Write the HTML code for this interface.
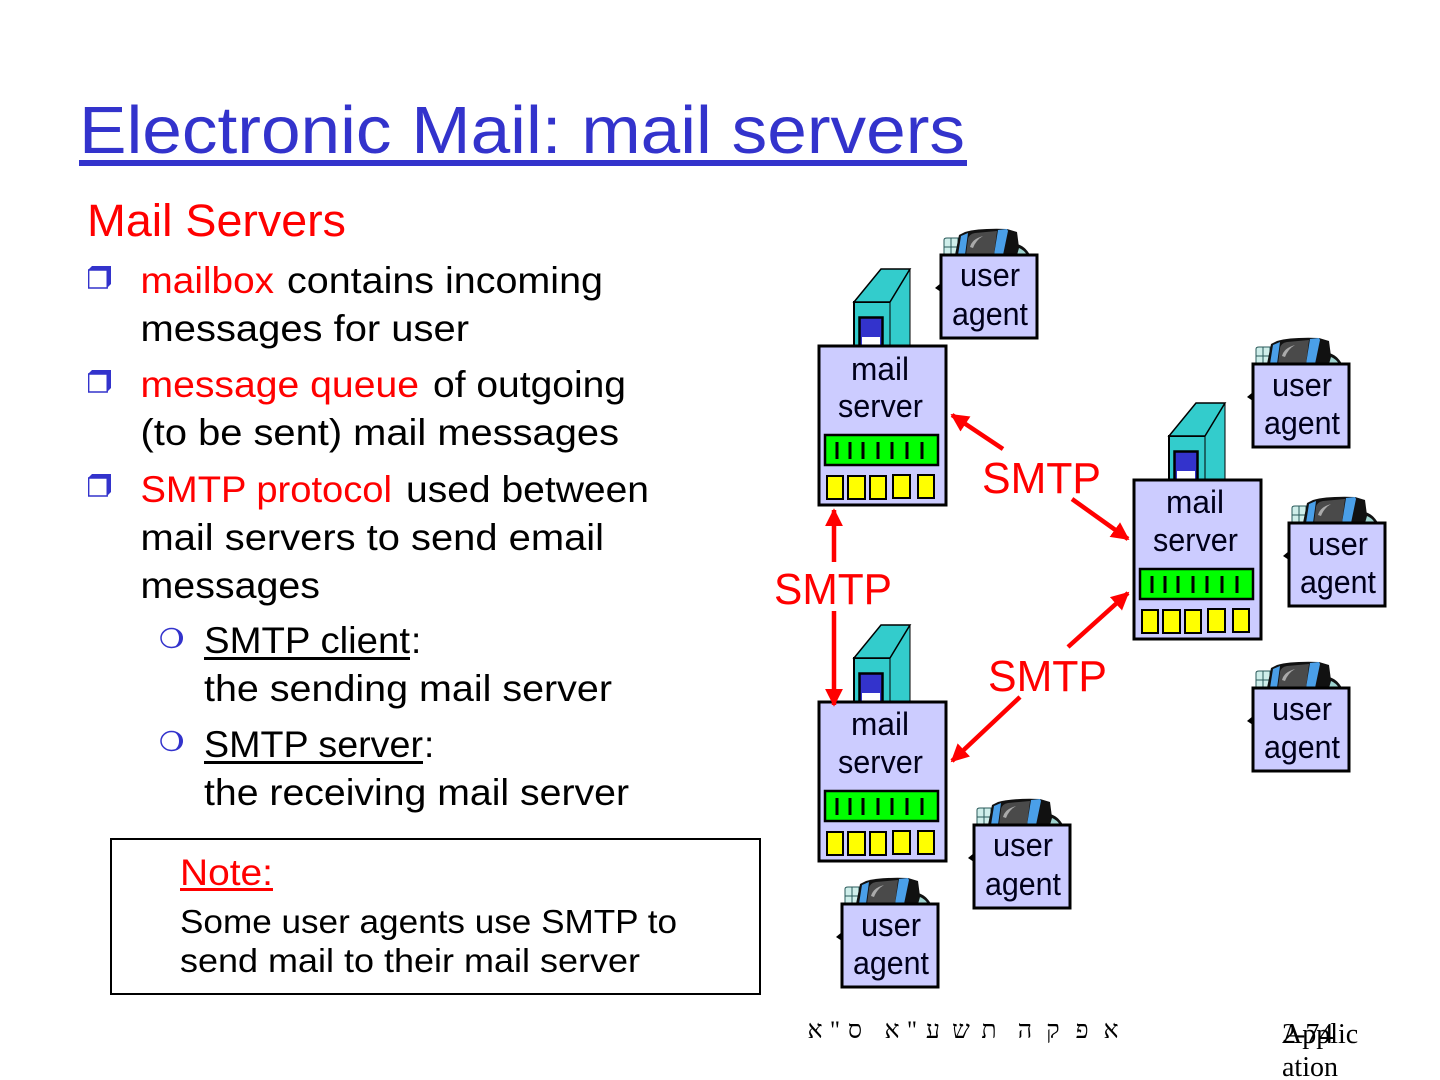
<!DOCTYPE html>
<html lang="en"><head><meta charset="utf-8"><title>Electronic Mail: mail servers</title>
<style>
html,body{margin:0;padding:0;background:#fff}
svg{display:block}
text{font-family:"Liberation Sans",sans-serif}
.b{font-size:37px;fill:#000}
.r{font-size:37px;fill:#f00}
.n{font-size:33px;fill:#000}
.l{font-size:32px;fill:#00001a}
.s{font-size:44px;fill:#f00}
.h{font-family:"Liberation Serif","DejaVu Serif",serif;font-size:25px;fill:#000;text-anchor:middle}
.f{font-family:"Liberation Serif",serif;font-size:28px;fill:#000}
</style></head><body>
<svg width="1440" height="1080" viewBox="0 0 1440 1080" xmlns="http://www.w3.org/2000/svg">
<defs>
<g id="ua">
<path d="M-6 33l6-5v9z" fill="#000"/>
<path d="M3 0v-15q0-2 3-2h11v17z" fill="#cfeeea" stroke="#2a5a5a" stroke-width="1"/>
<path d="M3 -8h14M10 -17v17" stroke="#2a5a5a" stroke-width="1"/>
<path d="M14 0l4-20 6-3q14-4 42-3l10 3 3 23z" fill="#111"/>
<path d="M17 0l3-19 7-3-3 22zM57 -25l9-1 1 2-5 24h-9z" fill="#4a9fe8"/>
<path d="M25 0l2-16q1-5 7-6l22-2-3 24z" fill="#4a4a4a"/>
<path d="M29 -8q2-8 13-11-7 4-10 12z" fill="#aaa"/>
<path d="M76 0v-11q8 2 13 11z" fill="#111"/>
<path d="M76 0l2-7q5 2 8 7z" fill="#9fd4d0"/>
<rect width="96" height="83" fill="#ccccff" stroke="#000" stroke-width="3" x="0" y="0"/>
</g>
<g id="ms">
<path d="M71 2v-46l20-33v79z" fill="#33cccc"/>
<path d="M91 -77v79" stroke="#000" stroke-width="1"/>
<path d="M35 2v-46h36v46z" fill="#33cccc"/>
<path d="M35 2v-46h36" fill="none" stroke="#000" stroke-width="2"/>
<path d="M71 -44v46" stroke="#000" stroke-width="1"/>
<path d="M35 -44l27-33h29l-20 33z" fill="#33cccc" stroke="#000" stroke-width="1.500"/>
<rect x="40.500" y="-28.500" width="23" height="30" fill="#3333cc" stroke="#000" stroke-width="2.500"/>
<rect x="43" y="-9" width="18" height="9" fill="#fff"/>
<rect width="127" height="159" fill="#ccccff" stroke="#000" stroke-width="3"/>
<rect x="6" y="89" width="113" height="30" fill="#00ff00" stroke="#000" stroke-width="2.500"/>
<path d="M18 96v17M31 96v17M44 96v17M59 96v17M73 96v17M88 96v17M103 96v17" stroke="#000" stroke-width="3"/>
<g fill="#ffff00" stroke="#000" stroke-width="2">
<rect x="8" y="130" width="16" height="23"/><rect x="29" y="130" width="17" height="23"/><rect x="51" y="130" width="16" height="23"/><rect x="74" y="129" width="17" height="23"/><rect x="99" y="129" width="16" height="23"/>
</g>
</g>
<g id="sq">
<path d="M0.700 22v-18h18.500v18z" fill="#fff" stroke="#3333cc" stroke-width="1.400"/>
<path d="M0 4l4-4h19v18l-4 4v-18z" fill="#3333cc"/>
</g>
<g id="ci">
<ellipse cx="0" cy="0" rx="10.500" ry="9.500" fill="none" stroke="#3333cc" stroke-width="1.500"/>
<path d="M2 -9.500C8 -9 11.500 -5 11.500 0C11.500 5 8 9.500 2 9.800C6 7 7.500 4 7.500 0C7.500 -4 6 -7 2 -9.500z" fill="#3333cc"/>
</g>
<marker id="a" viewBox="0 0 10 10" refX="9" refY="5" markerWidth="4" markerHeight="4" orient="auto"><path d="M0 0L10 5L0 10z" fill="#f00"/></marker>
</defs>

<text x="79" y="153" font-size="67" fill="#3333cc" textLength="886" lengthAdjust="spacingAndGlyphs">Electronic Mail: mail servers</text>
<rect x="79" y="160" width="888" height="6" fill="#3333cc"/>
<text x="87" y="236" font-size="45" fill="#f00" textLength="259" lengthAdjust="spacingAndGlyphs">Mail Servers</text>

<use href="#sq" x="88" y="266"/><use href="#sq" x="88" y="370"/><use href="#sq" x="88" y="474"/>
<use href="#ci" x="171.500" y="638"/><use href="#ci" x="171.500" y="741"/>

<text class="r" x="140.500" y="293" textLength="133.500" lengthAdjust="spacingAndGlyphs">mailbox</text>
<text class="b" x="287" y="293" textLength="316" lengthAdjust="spacingAndGlyphs">contains incoming</text>
<text class="b" x="140.500" y="341" textLength="328.500" lengthAdjust="spacingAndGlyphs">messages for user</text>
<text class="r" x="140.500" y="397" textLength="278.500" lengthAdjust="spacingAndGlyphs">message queue</text>
<text class="b" x="433" y="397" textLength="193" lengthAdjust="spacingAndGlyphs">of outgoing</text>
<text class="b" x="140.500" y="445" textLength="478.500" lengthAdjust="spacingAndGlyphs">(to be sent) mail messages</text>
<text class="r" x="140.500" y="502" textLength="251.500" lengthAdjust="spacingAndGlyphs">SMTP protocol</text>
<text class="b" x="406" y="502" textLength="243" lengthAdjust="spacingAndGlyphs">used between</text>
<text class="b" x="140.500" y="550" textLength="463.500" lengthAdjust="spacingAndGlyphs">mail servers to send email</text>
<text class="b" x="140.500" y="598" textLength="179.500" lengthAdjust="spacingAndGlyphs">messages</text>
<text class="b" x="204" y="653" textLength="206" lengthAdjust="spacingAndGlyphs">SMTP client</text>
<text class="b" x="411" y="653">:</text>
<rect x="204" y="657" width="206" height="3" fill="#000"/>
<text class="b" x="204" y="701" textLength="408" lengthAdjust="spacingAndGlyphs">the sending mail server</text>
<text class="b" x="204" y="757" textLength="219" lengthAdjust="spacingAndGlyphs">SMTP server</text>
<text class="b" x="424" y="757">:</text>
<rect x="204" y="761" width="219" height="3" fill="#000"/>
<text class="b" x="204" y="805" textLength="425" lengthAdjust="spacingAndGlyphs">the receiving mail server</text>

<rect x="111" y="839" width="649" height="155" fill="#fff" stroke="#000" stroke-width="2"/>
<text x="180" y="885" font-size="37" fill="#f00" textLength="93" lengthAdjust="spacingAndGlyphs">Note:</text>
<rect x="180" y="888" width="93" height="3" fill="#f00"/>
<text class="n" x="180" y="933" textLength="497" lengthAdjust="spacingAndGlyphs">Some user agents use SMTP to</text>
<text class="n" x="180" y="972" textLength="460" lengthAdjust="spacingAndGlyphs">send mail to their mail server</text>

<use href="#ms" x="819" y="346"/>
<use href="#ms" x="1134" y="480"/>
<use href="#ms" x="819" y="702"/>
<use href="#ua" x="941" y="255"/>
<use href="#ua" x="1253" y="364"/>
<use href="#ua" x="1289" y="523"/>
<use href="#ua" x="1253" y="688"/>
<use href="#ua" x="974" y="825"/>
<use href="#ua" x="842" y="904"/>

<text class="l" x="851" y="380" textLength="58" lengthAdjust="spacingAndGlyphs">mail</text><text class="l" x="838" y="417" textLength="85" lengthAdjust="spacingAndGlyphs">server</text>
<text class="l" x="1166" y="513" textLength="58" lengthAdjust="spacingAndGlyphs">mail</text><text class="l" x="1153" y="551" textLength="85" lengthAdjust="spacingAndGlyphs">server</text>
<text class="l" x="851" y="735" textLength="58" lengthAdjust="spacingAndGlyphs">mail</text><text class="l" x="838" y="773" textLength="85" lengthAdjust="spacingAndGlyphs">server</text>

<text class="l" x="960" y="286" textLength="60" lengthAdjust="spacingAndGlyphs">user</text><text class="l" x="952" y="325" textLength="76" lengthAdjust="spacingAndGlyphs">agent</text>
<text class="l" x="1272" y="396" textLength="60" lengthAdjust="spacingAndGlyphs">user</text><text class="l" x="1264" y="434" textLength="76" lengthAdjust="spacingAndGlyphs">agent</text>
<text class="l" x="1308" y="555" textLength="60" lengthAdjust="spacingAndGlyphs">user</text><text class="l" x="1300" y="593" textLength="76" lengthAdjust="spacingAndGlyphs">agent</text>
<text class="l" x="1272" y="720" textLength="60" lengthAdjust="spacingAndGlyphs">user</text><text class="l" x="1264" y="758" textLength="76" lengthAdjust="spacingAndGlyphs">agent</text>
<text class="l" x="993" y="856" textLength="60" lengthAdjust="spacingAndGlyphs">user</text><text class="l" x="985" y="895" textLength="76" lengthAdjust="spacingAndGlyphs">agent</text>
<text class="l" x="861" y="936" textLength="60" lengthAdjust="spacingAndGlyphs">user</text><text class="l" x="853" y="974" textLength="76" lengthAdjust="spacingAndGlyphs">agent</text>

<g stroke="#f00" stroke-width="4.500" fill="none">
<path d="M1003 449L952 415" marker-end="url(#a)"/>
<path d="M1072 499L1128 539" marker-end="url(#a)"/>
<path d="M834 562V510" marker-end="url(#a)"/>
<path d="M834 611V705" marker-end="url(#a)"/>
<path d="M1068 647L1128 593" marker-end="url(#a)"/>
<path d="M1020 697L952 761" marker-end="url(#a)"/>
</g>
<text class="s" x="982" y="493" textLength="119" lengthAdjust="spacingAndGlyphs">SMTP</text>
<text class="s" x="774" y="604" textLength="118" lengthAdjust="spacingAndGlyphs">SMTP</text>
<text class="s" x="988" y="691" textLength="119" lengthAdjust="spacingAndGlyphs">SMTP</text>

<g>
<text class="h" x="815" y="1038">א</text><text class="h" x="835" y="1038">"</text><text class="h" x="855" y="1038">ס</text>
<text class="h" x="892" y="1038">א</text><text class="h" x="912" y="1038">"</text><text class="h" x="933" y="1038">ע</text>
<text class="h" x="961" y="1038">ש</text><text class="h" x="989" y="1038">ת</text><text class="h" x="1025" y="1038">ה</text>
<text class="h" x="1053" y="1038">ק</text><text class="h" x="1082" y="1038">פ</text><text class="h" x="1111" y="1038">א</text>
</g>
<text class="f" x="1282" y="1043">2-74</text>
<text class="f" x="1282" y="1043">Applic</text>
<text class="f" x="1282" y="1076">ation</text>
</svg>
</body></html>
